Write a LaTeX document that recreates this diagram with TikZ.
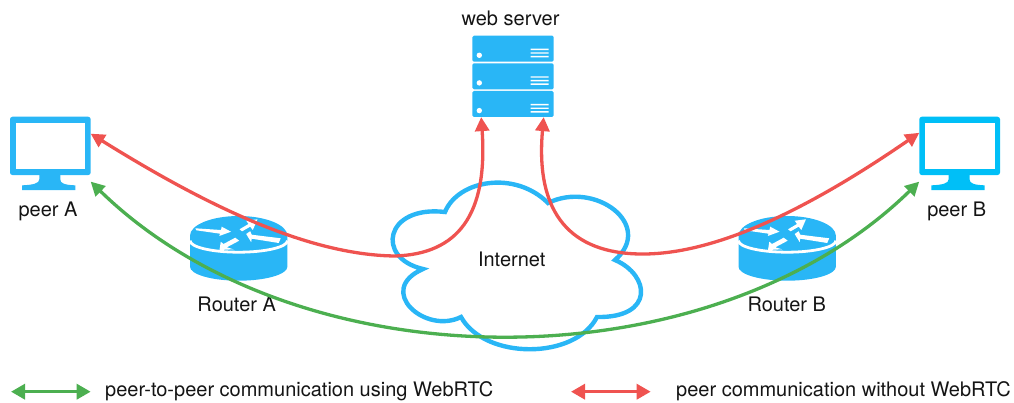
\documentclass[tikz,border=0pt]{standalone}
\usepackage{fontspec}
\setmainfont{TeX Gyre Heros}
\usetikzlibrary{arrows.meta}
\definecolor{skyb}{HTML}{29B6F6}
\definecolor{cyanb}{HTML}{00BFF7}
\definecolor{redl}{HTML}{EF5350}
\definecolor{greenl}{HTML}{4CAF50}
\tikzset{
  lbl/.style={inner sep=0pt,font=\fontsize{20}{22}\selectfont,text=black!92},
  bbox/.style={inner sep=0pt,outer sep=0pt,minimum width=#1},
  link/.style={line width=3.3pt,{Triangle[length=14pt,width=14pt]}-{Triangle[length=14pt,width=14pt]}},
  legendlink/.style={line width=3.3pt,{Triangle[length=14pt,width=15pt]}-{Triangle[length=14pt,width=15pt]}},
  pics/monitor/.style={code={
    \path[fill=#1,rounded corners=2.5pt] (-40.3,-36.6) rectangle (40.4,21.7);
    \path[fill=white] (-34.3,-30) rectangle (35,16);
    \path[fill=#1] (-11,21) -- (10,21) -- (10,26) .. controls (10,30) and (14,31.5) .. (25,32) -- (25,36.7) -- (-28.3,36.7) -- (-28.3,32) .. controls (-17,31.5) and (-11,30) .. (-11,26) -- cycle;
  }},
  pics/serverrow/.style={code={
    \path[fill=skyb,rounded corners=1.5pt] (0,0) rectangle (81.4,26);
    \path[fill=white] (7,19.6) circle (2.7pt);
    \path[fill=white] (58.4,13) rectangle (76.4,14.4) (58.4,16.6) rectangle (76.4,18) (58.4,20.2) rectangle (76.4,21.6);
  }},
  pics/routericon/.style={code={
    \path[fill=skyb] (-48.7,0) -- (-48.7,31) arc[start angle=180,end angle=0,x radius=48.7,y radius=14] -- (48.7,0) arc[start angle=0,end angle=-180,x radius=48.7,y radius=19.7] -- cycle;
    \draw[white,line width=2.8pt] (-48.7,5) arc[start angle=180,end angle=0,x radius=48.7,y radius=11.5];
    \path[fill=white] (-43.4,-7.4) -- (-17.7,-5.7) -- (-17,-9) -- (-7.7,-4) -- (-19.4,0.3) -- (-18.7,-2) -- (-42.4,-5.4) -- cycle;
    \path[fill=white] (0.8,-6.4) -- (3.4,-4.4) -- (11.5,-9) -- (14.1,-5.7) -- (18.8,-16.4) -- (7.5,-15) -- (9.8,-11.7) -- cycle;
    \path[fill=white] (7.5,-1.7) -- (11.5,-4.5) -- (13,-1) -- (42,2.6) -- (40,7.3) -- (13,3) -- (12.5,6.5) -- cycle;
    \path[fill=white] (-19.2,14.3) -- (-17.9,6) -- (-15.2,8.3) -- (-3.5,2) -- (0.5,5) -- (-11.9,11.6) -- (-5.2,13.6) -- cycle;
  }}
}
\begin{document}
\begin{tikzpicture}[x=1pt,y=-1pt]
\useasboundingbox (0,0) rectangle (1014,403);

% bounding nodes of the icons
\node[bbox=80.7,minimum height=73.3] (peerA) at (50.3,153.35) {};
\node[bbox=80.7,minimum height=73.3] (peerB) at (959.6,153.35) {};
\node[bbox=81.4,minimum height=81.4] (server) at (513,76.4) {};

% icons
\pic at (peerA.center) {monitor=skyb};
\pic at (peerB.center) {monitor=cyanb};
\pic at (472.3,35.7) {serverrow};
\pic at (472.3,63.3) {serverrow};
\pic at (472.3,91) {serverrow};
\pic at (238.7,235.7) {routericon};
\pic at (787.2,235.7) {routericon};

% cloud
\draw[skyb,line width=4.4pt,fill=white,miter limit=4] (445,212)
  .. controls (458,180) and (515,170) .. (548,203)
  .. controls (595,180) and (655,225) .. (615,260)
  .. controls (650,275) and (655,318) .. (597,317)
  .. controls (575,360) and (485,360) .. (461,317)
  .. controls (425,335) and (375,290) .. (423,269)
  .. controls (375,258) and (385,205) .. (445,212) -- cycle;

% labels
\node[lbl] (webl) at (510.5,18.5) {web server};
\node[lbl] (peerAl) at (48,211.5) {peer A};
\node[lbl] (peerBl) at (956.7,211.5) {peer B};
\node[lbl] (routerAl) at (236.7,304.5) {Router A};
\node[lbl] (routerBl) at (786.7,304.5) {Router B};
\node[lbl] (inet) at (511.7,259.5) {Internet};
\node[lbl,anchor=west] (legG) at (105,391) {peer-to-peer communication using WebRTC};
\node[lbl,anchor=west] (legR) at (676,391) {peer communication without WebRTC};

% connectors
\draw[link,redl] (peerA.26.7) .. controls (210,208) and (310,255) .. (395,256)
  .. controls (458,254) and (488,215) .. (server.232.7);
\draw[link,redl] (peerB.153.3) .. controls (800,215) and (710,255) .. (640,254)
  .. controls (572,253) and (535,215) .. (server.307.3);
\draw[link,greenl] (peerA.-35.4) .. controls (300,386) and (710,386) .. (peerB.215.4);

% legend
\coordinate (gA) at (11,391.7);
\coordinate (gB) at (90.7,391.7);
\coordinate (rA) at (571,391.7);
\coordinate (rB) at (650.7,391.7);
\draw[legendlink,greenl] (gA) -- (gB);
\draw[legendlink,redl] (rA) -- (rB);
\end{tikzpicture}
\end{document}
